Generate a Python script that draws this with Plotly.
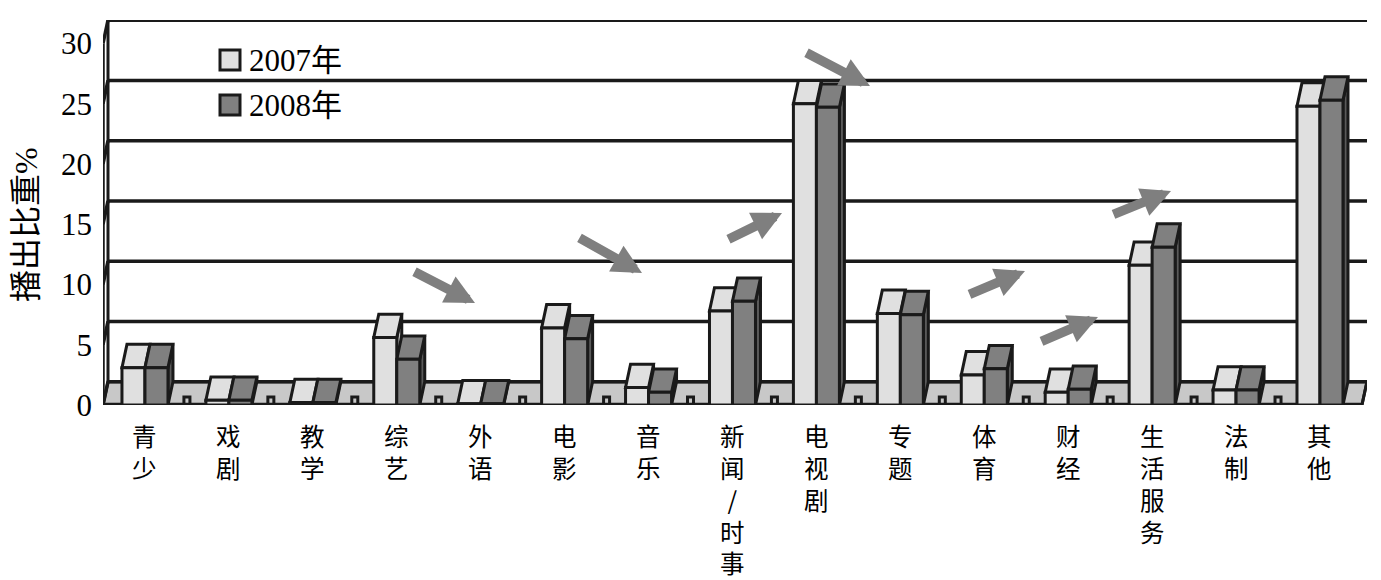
import plotly.graph_objects as go

# ---------------- data ----------------
categories = ["青少", "戏剧", "教学", "综艺", "外语", "电影", "音乐", "新闻/时事",
              "电视剧", "专题", "体育", "财经", "生活服务", "法制", "其他"]
share_2007 = [3.1, 0.4, 0.2, 5.6, 0.1, 6.4, 1.45, 7.8, 25.0, 7.6, 2.5, 1.05, 11.6, 1.25, 24.8]
share_2008 = [3.1, 0.4, 0.2, 3.8, 0.1, 5.5, 1.05, 8.6, 24.7, 7.5, 3.0, 1.3, 13.1, 1.25, 25.3]
y_ticks = [0, 5, 10, 15, 20, 25, 30]
series_names = ["2007年", "2008年"]
y_title = "播出比重%"

# ---------------- geometry (page pixels) ----------------
PAGE_W, PAGE_H = 1381, 580
BODY = 8                      # default body margin of the html page
PL, PR, PT, PB = 103, 1367, 20, 405   # plot area in page pixels
FIG_W, FIG_H = PAGE_W - BODY, PAGE_H - BODY
ML, MT = PL - BODY, PT - BODY
MR = FIG_W - (PR - BODY)
MB = FIG_H - (PB - BODY)
PXU = 83.93          # px per category
PYU = 12.05          # px per percent
plot_w = PR - PL
plot_h = PB - PT
x_range = [-0.5, -0.5 + plot_w / PXU]
y_range = [0, plot_h / PYU]
DX = 5 / PXU         # depth offset (x)
DY = 23.3 / PYU      # depth offset (y)
BW = 23 / PXU        # bar width
n = len(categories)
x_end = n - 0.5


def X(px):
    return -0.5 + (px - PL) / PXU


def Y(py):
    return (PB - py) / PYU


def XP(px):
    return (px - PL) / plot_w


def YP(py):
    return (PB - py) / plot_h


LINE = "#1a1a1a"
C07, C08 = "#e0e0e0", "#808080"
FLOOR = "#c8c8c8"
ARROW = "#7f7f7f"
SERIF = "Liberation Serif, Noto Sans CJK SC"
CJK = "Noto Sans CJK SC"

shapes = []


def path(pts):
    return "M " + " L ".join(f"{x},{y}" for x, y in pts) + " Z"


# floor
shapes.append(dict(type="path", layer="below", xref="x", yref="y",
                   path=path([(-0.5, 0), (x_end, 0), (x_end + DX, DY), (-0.5 + DX, DY)]),
                   fillcolor=FLOOR, line=dict(color=LINE, width=3)))
# back-wall gridlines
for v in y_ticks:
    shapes.append(dict(type="line", layer="below", xref="x", yref="y",
                       x0=-0.5 + DX, x1=x_range[1], y0=v + DY, y1=v + DY,
                       line=dict(color=LINE, width=3.5)))
# left wall
shapes.append(dict(type="line", layer="below", xref="x", yref="y",
                   x0=-0.5, x1=-0.5, y0=0, y1=y_ticks[-1], line=dict(color=LINE, width=3.5)))
shapes.append(dict(type="line", layer="below", xref="x", yref="y",
                   x0=-0.5 + DX, x1=-0.5 + DX, y0=DY, y1=y_ticks[-1] + DY,
                   line=dict(color=LINE, width=3)))
for v in y_ticks:
    shapes.append(dict(type="line", layer="below", xref="x", yref="y",
                       x0=-0.5, x1=-0.5 + DX, y0=v, y1=v + DY, line=dict(color=LINE, width=3.5)))
# floor notches at category boundaries
for k in range(1, n):
    xb = k - 0.5
    a = 3 / PXU
    h = 8 / PYU
    shapes.append(dict(type="path", layer="below", xref="x", yref="y",
                       path=f"M {xb - a},0 L {xb - a},{h} L {xb + a},{h} L {xb + a},0",
                       line=dict(color=LINE, width=3)))
# front floor edge + right edge
shapes.append(dict(type="line", layer="below", xref="x", yref="y",
                   x0=-0.5, x1=x_end, y0=0, y1=0, line=dict(color=LINE, width=4.5)))
shapes.append(dict(type="line", layer="below", xref="x", yref="y",
                   x0=x_end, x1=x_end + DX, y0=0, y1=DY, line=dict(color=LINE, width=3)))

# 3D faces of bars (top + right side)
for i in range(n):
    for s, (vals, col) in enumerate([(share_2007, C07), (share_2008, C08)]):
        v = vals[i]
        x0 = i - BW if s == 0 else i
        x1 = x0 + BW
        shapes.append(dict(type="path", layer="below", xref="x", yref="y",
                           path=path([(x1, 0), (x1, v), (x1 + DX, v + DY), (x1 + DX, DY)]),
                           fillcolor="#5a5a5a" if s == 1 else "#bdbdbd",
                           line=dict(color=LINE, width=3)))
        shapes.append(dict(type="path", layer="below", xref="x", yref="y",
                           path=path([(x0, v), (x1, v), (x1 + DX, v + DY), (x0 + DX, v + DY)]),
                           fillcolor=col, line=dict(color=LINE, width=3)))

# legend squares
legend_rows = [(60, C07), (105, C08)]
annotations = []
for (cy, col), name in zip(legend_rows, series_names):
    shapes.append(dict(type="rect", layer="above", xref="x", yref="y",
                       x0=X(220), x1=X(240), y0=Y(cy + 10), y1=Y(cy - 10),
                       fillcolor=col, line=dict(color=LINE, width=3)))
    annotations.append(dict(x=X(247), y=Y(cy), xref="x", yref="y", text=name,
                            showarrow=False, xanchor="left", yanchor="middle",
                            font=dict(family=SERIF, size=31, color="black")))

# vertical category labels (characters stacked top-to-bottom)
for i, cat in enumerate(categories):
    annotations.append(dict(x=i, y=YP(417), xref="x", yref="paper",
                            text="<br>".join(cat), showarrow=False,
                            xanchor="center", yanchor="top", align="center", borderpad=0,
                            font=dict(family=CJK, size=24.5, color="black")))

# y-axis title
annotations.append(dict(x=XP(26), y=YP(225), xref="paper", yref="paper", text=y_title,
                        textangle=-90, showarrow=False, xanchor="center", yanchor="middle",
                        font=dict(family=SERIF, size=32, color="black")))

# trend arrows (tail px, tip px)
arrows = [((413, 271), (475, 303)), ((578, 237), (642, 273)), ((727, 240), (782, 213)),
          ((805, 52), (870, 86)), ((968, 295), (1025, 271)), ((1040, 342), (1098, 317)),
          ((1112, 215), (1171, 191))]
for (tx, ty), (hx, hy) in arrows:
    annotations.append(dict(x=X(hx), y=Y(hy), xref="x", yref="y", text="",
                            showarrow=True, ax=tx - hx, ay=ty - hy, axref="pixel", ayref="pixel",
                            arrowhead=2, arrowwidth=9.5, arrowsize=0.62, arrowcolor=ARROW,
                            standoff=0, startstandoff=0))

fig = go.Figure()
fig.add_trace(go.Bar(x=list(range(n)), y=share_2007, width=BW, offset=-BW, name=series_names[0],
                     marker=dict(color=C07, line=dict(color=LINE, width=3))))
fig.add_trace(go.Bar(x=list(range(n)), y=share_2008, width=BW, offset=0, name=series_names[1],
                     marker=dict(color=C08, line=dict(color=LINE, width=3))))

fig.update_layout(
    width=FIG_W, height=FIG_H, autosize=False,
    margin=dict(l=ML, r=MR, t=MT, b=MB, pad=0),
    paper_bgcolor="white", plot_bgcolor="white",
    barmode="overlay", showlegend=False, hovermode=False,
    shapes=shapes, annotations=annotations,
    xaxis=dict(range=x_range, showgrid=False, zeroline=False, showline=False,
               showticklabels=False, ticks="", fixedrange=True),
    yaxis=dict(range=y_range, showgrid=False, zeroline=False, showline=False,
               tickvals=y_ticks, ticktext=[str(v) for v in y_ticks], ticks="",
               ticklabelstandoff=10,
               tickfont=dict(family=SERIF, size=31, color="black"), fixedrange=True),
)

fig.write_html("out.html")
